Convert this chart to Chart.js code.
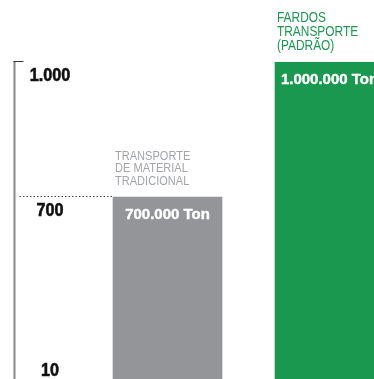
<!DOCTYPE html>
<html>
<head>
<meta charset="utf-8">
<script src="https://cdn.jsdelivr.net/npm/chart.js@4"></script>
<style>
  html, body { margin: 0; padding: 0; background: #fff; }
  #wrap { width: 374px; height: 379px; }
</style>
</head>
<body>
<div id="wrap"><canvas id="tonChart"></canvas></div>
<script>
// thousand tons moved per transport method
const categories = [
  ["TRANSPORTE", "DE MATERIAL", "TRADICIONAL"],
  ["FARDOS", "TRANSPORTE", "(PADRÃO)"]
];
const tonnes = [700, 1000];
const valueLabels = ["700.000 Ton", "1.000.000 Ton"];

// the axis is cut: bottom of the plot is labelled 10
const yMin = 296;
const yMax = 1000;
const yTickValues = [1000, 700, yMin];
const yTickLabels = ["1.000", "700", "10"];

const barColors = ["#939598", "#1a9850"];
const titleColors = ["#a3a5a8", "#1a9850"];
const titleSizes = [13, 14];
const titleLeading = [12.7, 14];

const FONT = '"Liberation Sans", Arial, sans-serif';

// squeeze text horizontally to get a condensed face, optional stroke to fatten it
function narrowText(ctx, text, x, y, sx, heavy) {
  ctx.save();
  ctx.translate(x, y);
  ctx.scale(sx, 1);
  ctx.fillText(text, 0, 0);
  if (heavy) {
    ctx.strokeStyle = ctx.fillStyle;
    ctx.lineWidth = heavy;
    ctx.strokeText(text, 0, 0);
  }
  ctx.restore();
}

const overlay = {
  id: "overlay",
  afterDatasetsDraw(chart) {
    const { ctx, chartArea, scales } = chart;
    const y = scales.y;
    const bars = chart.getDatasetMeta(0).data;
    const axisX = chartArea.left - 0.5;
    const topY = y.getPixelForValue(yMax);

    ctx.save();

    // vertical axis
    ctx.strokeStyle = "#8a8a8a";
    ctx.lineWidth = 2;
    ctx.beginPath();
    ctx.moveTo(axisX, topY - 1);
    ctx.lineTo(axisX, chartArea.bottom);
    ctx.stroke();

    // little cap at the top value
    ctx.strokeStyle = "#333";
    ctx.lineWidth = 1;
    ctx.beginPath();
    ctx.moveTo(axisX - 1, topY - 0.5);
    ctx.lineTo(axisX + 9, topY - 0.5);
    ctx.stroke();

    // dotted guide from the axis to the grey bar
    const gy = Math.round(y.getPixelForValue(700)) - 0.5;
    ctx.strokeStyle = "#444";
    ctx.setLineDash([1.5, 2]);
    ctx.beginPath();
    ctx.moveTo(axisX + 5, gy);
    ctx.lineTo(bars[0].x - bars[0].width / 2, gy);
    ctx.stroke();
    ctx.setLineDash([]);

    // tick labels, sitting just under their value
    ctx.fillStyle = "#111";
    ctx.font = "bold 18px " + FONT;
    ctx.textAlign = "center";
    ctx.textBaseline = "middle";
    yTickValues.forEach((v, i) => {
      const py = Math.min(y.getPixelForValue(v) + 14, chartArea.bottom - 8);
      narrowText(ctx, yTickLabels[i], 50, py, 0.9, 0.6);
    });

    bars.forEach((bar, i) => {
      const left = bar.x - bar.width / 2;

      // value inside the bar
      ctx.fillStyle = "#fff";
      ctx.font = "bold 14px " + FONT;
      ctx.textAlign = "center";
      ctx.textBaseline = "middle";
      narrowText(ctx, valueLabels[i], bar.x, bar.y + 18, 1.07, 0.4);

      // category name above the bar
      ctx.fillStyle = titleColors[i];
      ctx.font = titleSizes[i] + "px " + FONT;
      ctx.textAlign = "left";
      ctx.textBaseline = "alphabetic";
      const lines = categories[i];
      lines.forEach((line, j) => {
        const by = bar.y - 12 - (lines.length - 1 - j) * titleLeading[i];
        narrowText(ctx, line, left + 2, by, 0.85);
      });
    });

    ctx.restore();
  }
};

new Chart(document.getElementById("tonChart"), {
  type: "bar",
  data: {
    datasets: [{
      data: tonnes.map((v, i) => ({ x: i + 1, y: v })),
      backgroundColor: barColors,
      borderWidth: 0,
      barThickness: 109
    }]
  },
  options: {
    responsive: true,
    maintainAspectRatio: false,
    animation: false,
    layout: { padding: { top: 62, left: 15, right: 0, bottom: 0 } },
    scales: {
      x: { type: "linear", display: false, offset: false, min: 0.0586, max: 2.2747 },
      y: { display: false, min: yMin, max: yMax }
    },
    plugins: {
      legend: { display: false },
      tooltip: { enabled: false }
    }
  },
  plugins: [overlay]
});
</script>
</body>
</html>
